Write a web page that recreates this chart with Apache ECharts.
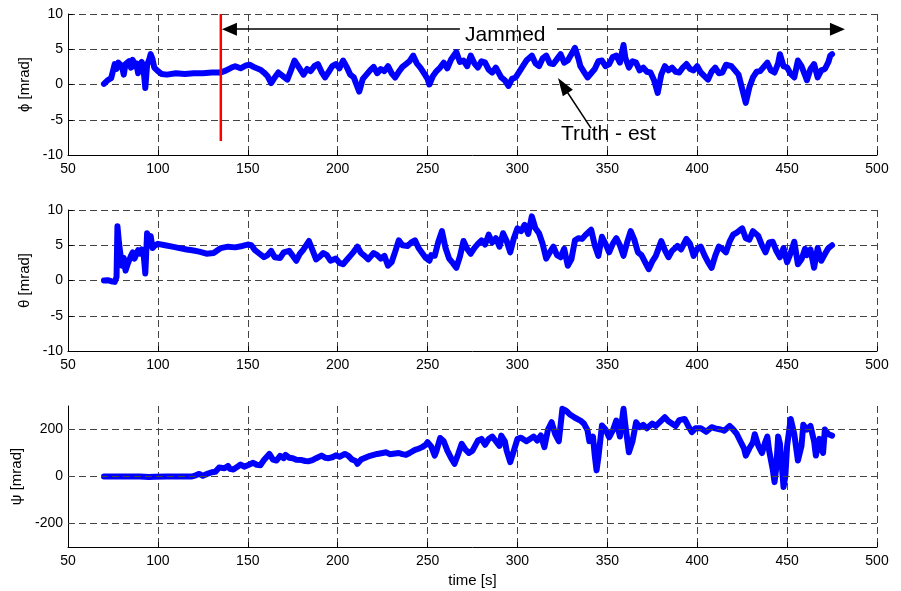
<!DOCTYPE html>
<html>
<head>
<meta charset="utf-8">
<script src="https://cdn.jsdelivr.net/npm/echarts@6/dist/echarts.min.js"></script>
<style>
html,body{margin:0;padding:0;background:#fff;}
#chart{width:901px;height:591px;}
</style>
</head>
<body>
<div id="chart"></div>
<script>
// ---- data ----
const xTicks = [50, 500, 50]; // min, max, step
const phiT = [70,72,74,75,76,77,78,80,81,82,84,85,86,87,88,89,90,91,92,93,94,95,96,97,98,100,102,105,110,115,120,125,130,135,138,141,143,146,149,151,154,157,159,161,163,165,167,169,172,174,176,178,181,183,185,187,189,191,193,195,197,199,201,203,205,207,209,210,212,214,216,218,220,222,224,226,228,230,232,234,236,238,240,242,244,246,248,250,251,253,255,257,259,261,263,266,268,270,272,274,276,278,280,282,284,286,288,291,293,295,297,299,301,303,305,308,310,312,314,316,318,320,322,324,326,328,330,332,334,335,337,339,341,343,345,347,349,351,353,355,357,359,360,362,364,366,368,370,372,374,376,378,380,382,384,386,388,390,392,394,396,398,400,402,404,406,408,410,412,414,416,419,421,423,425,427,429,431,433,435,437,439,441,443,445,446,448,450,452,454,456,458,460,461,463,465,467,469,471,473,474,475];
const phiV = [0.1,0.6,0.9,1.1,2.9,2.2,3.1,2.6,1.4,2.9,3.3,2.4,3.5,2.6,3.0,1.6,2.8,3.2,2.2,-0.5,2.8,3.4,4.3,3.6,2.4,1.9,1.5,1.4,1.6,1.5,1.6,1.6,1.7,1.7,2.0,2.4,2.6,2.3,2.7,2.8,2.4,2.1,1.7,1.2,0.2,1.0,1.7,1.3,0.7,2.0,3.4,2.6,1.4,2.2,1.9,2.6,2.9,1.8,1.0,1.8,2.6,2.9,2.3,3.4,2.5,1.4,1.0,0.3,-1.0,0.8,1.4,2.0,2.5,1.6,2.2,1.9,2.6,1.6,1.0,1.8,2.5,2.9,3.3,4.1,3.0,2.4,1.6,0.8,0.0,1.2,1.9,2.4,3.1,2.3,3.5,4.6,3.2,3.4,2.6,4.1,3.0,2.4,3.3,3.1,2.1,1.7,2.4,1.0,0.6,-0.2,0.8,1.0,1.8,2.6,3.4,4.1,3.0,2.6,3.7,4.1,3.0,2.9,3.6,4.3,3.1,3.4,4.3,5.2,3.6,2.6,1.8,1.0,1.6,2.2,3.3,3.4,2.6,2.9,3.9,4.1,3.1,5.6,3.8,2.4,3.3,3.1,2.0,2.4,1.8,1.7,0.6,-1.2,1.4,2.6,2.0,2.4,1.8,1.7,2.4,2.9,2.2,2.0,2.6,1.7,1.2,0.7,1.8,2.4,1.6,1.7,2.8,2.6,2.0,1.4,-0.6,-2.6,-0.4,1.0,1.8,1.9,2.5,3.1,2.0,1.7,3.0,4.3,2.6,2.4,1.5,1.0,3.4,2.6,1.3,0.6,2.2,2.9,1.0,2.0,2.2,3.2,4.1,4.3];

const thetaT = [70,72,74,76,77,77.5,78.5,80,81,82,83,85,86,87,89,90,91,92,93,94,95,96,97,98,100,104,108,112,116,119,123,127,131,135,139,143,147,150,152,154,156,159,161,163,165,168,170,173,175,177,179,181,184,186,188,190,192,194,196,199,201,203,205,207,209,211,213,215,217,220,222,224,226,228,230,232,234,236,239,241,243,245,247,249,251,252,254,256,258,260,262,264,266,268,270,272,274,276,278,280,282,284,286,288,290,292,294,296,298,300,302,304,306,308,310,312,314,316,318,320,322,324,326,328,330,332,334,336,338,341,343,345,347,349,351,353,355,357,359,361,363,365,367,369,371,373,375,377,378,380,382,384,386,389,391,394,396,398,400,402,404,406,408,410,412,414,416,418,420,422,425,427,429,431,434,436,438,440,442,444,446,448,450,452,454,456,458,460,461,463,465,467,469,470,472,473,475];
const thetaV = [0,0.05,-0.1,-0.2,0.5,7.7,5.0,2.1,3.2,1.4,2.2,3.5,4.0,3.1,4.3,3.8,4.4,3.9,1.0,6.7,5.2,6.3,4.6,4.9,5.2,5.0,4.8,4.6,4.4,4.3,4.1,3.8,3.9,4.6,4.8,4.7,4.9,5.1,5.0,4.3,3.9,3.3,3.6,4.2,3.3,3.2,4.0,4.2,3.5,2.8,3.8,4.4,5.6,4.3,3.0,3.4,3.9,3.6,2.8,3.1,2.5,2.3,2.9,3.5,4.1,4.8,3.9,3.5,3.0,3.9,3.6,3.1,3.5,2.1,2.6,4.1,5.7,5.0,4.9,5.4,5.7,4.6,3.9,3.2,2.8,3.6,3.5,5.5,7.0,4.6,3.1,2.5,1.8,3.4,5.6,4.5,3.8,4.6,5.2,5.7,5.1,6.5,5.4,6.0,4.8,6.7,5.6,4.0,6.0,7.4,7.0,7.9,6.6,9.1,7.4,6.7,5.2,3.1,4.0,4.8,3.6,3.3,4.5,2.1,3.0,5.7,6.0,5.9,6.5,7.2,5.0,3.5,6.2,5.2,4.0,5.2,6.0,5.0,3.5,5.4,7.0,5.8,4.0,3.6,2.6,1.6,2.7,3.5,4.2,5.6,4.3,3.3,4.2,4.9,4.4,5.9,5.2,3.5,4.5,4.8,3.6,2.6,1.8,3.5,4.8,4.5,4.0,5.5,6.5,6.8,7.4,6.0,5.8,7.0,6.3,5.0,4.0,5.4,5.5,4.2,3.3,4.6,2.6,3.9,5.5,2.3,3.0,4.5,3.6,4.4,1.8,4.6,2.8,2.6,4.2,4.6,5.0];

const psiT = [70,80,90,95,96,98,105,110,115,119,121,123,125,127,130,132,134,135,137,139,140,142,144,146,148,150,151,153,155,157,159,160,162,164,166,168,170,171,173,175,177,180,182,184,186,188,191,193,195,197,199,201,204,206,208,210,211,213,216,218,220,222,225,227,229,232,234,236,238,240,243,245,247,249,250,252,254,255,257,259,261,263,265,267,269,271,273,275,278,280,282,284,286,288,290,291,293,294,296,298,300,302,305,307,309,311,313,315,317,319,321,323,325,327,329,330,332,335,337,339,340,342,343,344,345,347,349,351,353,355,357,359,360,362,364,366,368,370,372,375,377,379,382,384,386,388,390,393,395,397,399,402,405,408,410,413,415,418,420,422,424,426,427,429,431,432,434,436,438,439,440,442,443,444,445,446,447,448,449,450,452,454,456,458,459,461,463,465,466,468,469,470,471,473,475];
const psiV = [0,0,0,-2,-6,-1,0,0,0,0,5,11,3,10,18,20,38,40,35,45,33,30,40,51,42,48,47,58,50,48,70,75,96,72,68,88,78,92,80,78,71,70,66,65,70,78,89,80,78,82,90,84,96,88,72,66,54,72,82,88,92,96,100,103,95,98,100,95,92,100,113,118,125,135,146,128,89,110,164,150,110,80,54,95,139,115,100,110,153,160,135,160,170,150,130,174,150,110,61,110,160,165,150,160,170,153,175,125,200,231,180,150,288,280,265,260,250,238,225,196,150,170,90,26,80,217,200,167,195,238,170,288,220,103,150,231,210,220,205,225,215,230,252,235,225,215,240,245,215,189,205,205,190,210,205,200,195,215,200,181,150,120,89,120,145,180,130,100,150,170,110,30,-24,40,170,140,50,-45,0,130,245,180,68,130,220,200,215,150,89,160,120,100,200,180,174];

const jamStart = 135;          // red vertical line time
const jamLine = [-8, 10];      // red line y extent
const jamArrow = {y: 7.85, left: 139.8, right: 478.0, gapL: 268, gapR: 322};
const truthArrow = {from: [340.9, -6.2], to: [325.3, -0.14]};
const phiTicks = [-10, 10, 5];
const thetaTicks = [-10, 10, 5];
const psiRange = [-300, 300];
const psiTickLabels = [-200, 0, 200];

const zip = (t, v) => t.map((x, i) => [x, v[i]]);

// ---- chart ----
const FONT = 'Liberation Sans, Arial, Helvetica, sans-serif';
const grids = [
  {left: 68, right: 24, top: 14, height: 141},
  {left: 68, right: 24, top: 210, height: 141},
  {left: 68, right: 24, top: 406, height: 141}
];
const dash = {color: '#444', width: 1, type: [7, 4]};
function xAxis(i, name) {
  return {
    gridIndex: i, type: 'value', min: xTicks[0], max: xTicks[1], interval: xTicks[2],
    axisLine: {show: true, onZero: false, lineStyle: {color: '#000', width: 1}},
    axisTick: {show: true, inside: true, length: 5, lineStyle: {color: '#000'}},
    axisLabel: {color: '#000', fontSize: 14, fontFamily: FONT, margin: 7},
    splitLine: {show: true, lineStyle: dash},
    name: name || '', nameLocation: 'middle', nameGap: 26,
    nameTextStyle: {color: '#000', fontSize: 15, fontFamily: FONT}
  };
}
function yAxis(i, ticks, name) {
  return {
    gridIndex: i, type: 'value', min: ticks[0], max: ticks[1], interval: ticks[2],
    axisLine: {show: true, onZero: false, lineStyle: {color: '#000', width: 1}},
    axisTick: {show: true, inside: true, length: 5, lineStyle: {color: '#000'}},
    axisLabel: {color: '#000', fontSize: 14, fontFamily: FONT, margin: 5},
    splitLine: {show: true, lineStyle: dash},
    name: name, nameLocation: 'middle', nameGap: 31, nameRotate: 90,
    nameTextStyle: {color: '#000', fontSize: 15, fontFamily: FONT}
  };
}
const y3 = yAxis(2, [psiRange[0], psiRange[1], 100], 'ψ [mrad]');
y3.splitLine = {show: false};
y3.axisLabel.customValues = psiTickLabels;
y3.axisTick.customValues = psiTickLabels;

const blueLine = (i, data) => ({
  type: 'line', xAxisIndex: i, yAxisIndex: i, data: data, z: 3,
  showSymbol: false, symbol: 'none', smooth: false, animation: false,
  lineStyle: {color: '#0000ff', width: 6, cap: 'round', join: 'round'}
});

const arrowStyle = {color: '#000', width: 1.5, type: 'solid'};
const option = {
  backgroundColor: '#fff',
  animation: false,
  grid: grids,
  xAxis: [xAxis(0), xAxis(1), xAxis(2, 'time [s]')],
  yAxis: [yAxis(0, phiTicks, 'ϕ [mrad]'), yAxis(1, thetaTicks, 'θ [mrad]'), y3],
  series: [
    blueLine(0, zip(phiT, phiV)),
    blueLine(1, zip(thetaT, thetaV)),
    blueLine(2, zip(psiT, psiV)),
    { // red jam start line
      type: 'line', xAxisIndex: 0, yAxisIndex: 0, z: 4, symbol: 'none',
      data: [[jamStart, jamLine[0]], [jamStart, jamLine[1]]],
      lineStyle: {color: '#ff0000', width: 2.5}
    },
    { // annotation arrows
      type: 'line', xAxisIndex: 0, yAxisIndex: 0, z: 5, symbol: 'none',
      data: [[jamArrow.left, jamArrow.y]], lineStyle: {opacity: 0},
      markLine: {
        silent: true, animation: false, label: {show: false},
        lineStyle: arrowStyle,
        data: [
          [{coord: [jamArrow.gapL, jamArrow.y], symbol: 'none'},
           {coord: [jamArrow.left, jamArrow.y], symbol: 'triangle', symbolSize: [13, 15]}],
          [{coord: [jamArrow.gapR, jamArrow.y], symbol: 'none'},
           {coord: [jamArrow.right, jamArrow.y], symbol: 'triangle', symbolSize: [13, 15]}],
          [{coord: truthArrow.from, symbol: 'none'},
           {coord: truthArrow.to, symbol: 'triangle', symbolSize: [12, 18]}]
        ]
      }
    },
    { // panel 3 grid lines
      type: 'line', xAxisIndex: 2, yAxisIndex: 2, z: 1, symbol: 'none',
      data: [[70, 0]], lineStyle: {opacity: 0},
      markLine: {
        silent: true, animation: false, symbol: 'none', label: {show: false},
        lineStyle: dash,
        data: psiTickLabels.map(v => ({yAxis: v}))
      }
    }
  ],
  graphic: [
    {type: 'text', left: 465, top: 25, z: 10,
     style: {text: 'Jammed', fontSize: 21, fontFamily: FONT, fill: '#000'}},
    {type: 'text', left: 561, top: 124, z: 10,
     style: {text: 'Truth - est', fontSize: 21, fontFamily: FONT, fill: '#000'}}
  ]
};
const chart = echarts.init(document.getElementById('chart'), null, {renderer: 'canvas'});
chart.setOption(option);
</script>
</body>
</html>
